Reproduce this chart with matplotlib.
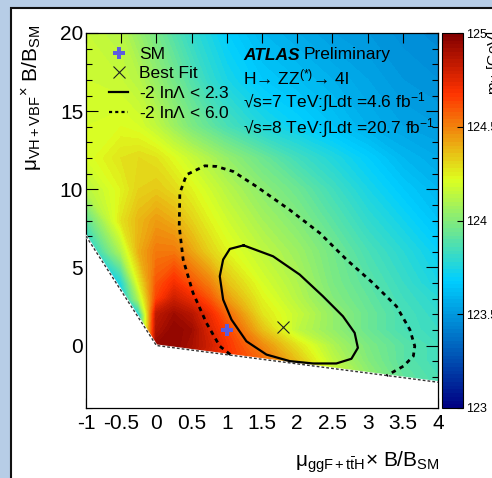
import numpy as np
import matplotlib
matplotlib.use('Agg')
import matplotlib.pyplot as plt
from matplotlib.colors import LinearSegmentedColormap
from matplotlib.patches import Polygon, Rectangle
from matplotlib.lines import Line2D
from matplotlib.ticker import MultipleLocator, FuncFormatter

plt.rcParams['font.family'] = ['Liberation Sans', 'DejaVu Sans']
plt.rcParams['mathtext.fontset'] = 'custom'
plt.rcParams['mathtext.rm'] = 'Liberation Sans'
plt.rcParams['mathtext.it'] = 'Liberation Sans:italic'
plt.rcParams['mathtext.bf'] = 'Liberation Sans:bold'
plt.rcParams['axes.unicode_minus'] = False

# ---------------- data ----------------
mu_ggf = [-1, -0.5, -0.25, 0, 0.25, 0.5, 0.75, 1, 1.5, 2, 2.5, 3, 3.5, 4]
mu_vbf = [-4, -2, -1, 0, 1, 2, 3, 4, 6, 8, 10, 12, 14, 17, 20]
# best-fit m_H [GeV]; one row per mu_vbf value, one column per mu_ggf value
mh_rows = [
    [124.80, 124.80, 124.80, 124.90, 124.90, 124.84, 124.76, 124.68, 124.56, 124.40, 124.20, 124.04, 123.94, 123.88],  # -4
    [124.80, 124.80, 124.80, 124.90, 124.90, 124.84, 124.76, 124.68, 124.56, 124.40, 124.20, 124.04, 123.92, 123.86],  # -2
    [124.80, 124.80, 124.80, 124.90, 124.90, 124.84, 124.76, 124.68, 124.56, 124.36, 124.14, 124.00, 123.90, 123.84],  # -1
    [123.70, 123.70, 123.76, 124.94, 124.96, 124.90, 124.80, 124.68, 124.48, 124.28, 124.10, 123.98, 123.90, 123.84],  # 0
    [123.70, 123.70, 123.76, 124.88, 124.96, 124.92, 124.76, 124.64, 124.36, 124.14, 124.04, 123.94, 123.86, 123.82],  # 1
    [123.70, 123.70, 123.76, 124.84, 124.92, 124.86, 124.72, 124.56, 124.28, 124.16, 124.04, 123.94, 123.86, 123.80],  # 2
    [123.70, 123.70, 124.10, 124.64, 124.80, 124.72, 124.60, 124.44, 124.24, 124.12, 124.00, 123.92, 123.84, 123.78],  # 3
    [123.70, 123.76, 124.24, 124.60, 124.70, 124.60, 124.50, 124.36, 124.20, 124.10, 123.98, 123.90, 123.82, 123.74],  # 4
    [123.70, 124.10, 124.40, 124.52, 124.52, 124.42, 124.32, 124.24, 124.14, 124.06, 123.96, 123.86, 123.78, 123.70],  # 6
    [123.90, 124.28, 124.38, 124.44, 124.40, 124.32, 124.24, 124.18, 124.08, 124.00, 123.90, 123.80, 123.72, 123.64],  # 8
    [124.12, 124.24, 124.32, 124.34, 124.30, 124.24, 124.18, 124.12, 124.02, 123.94, 123.84, 123.74, 123.66, 123.60],  # 10
    [124.20, 124.28, 124.30, 124.28, 124.22, 124.16, 124.10, 124.04, 123.94, 123.84, 123.76, 123.68, 123.60, 123.56],  # 12
    [124.20, 124.22, 124.20, 124.14, 124.06, 123.98, 123.92, 123.86, 123.76, 123.70, 123.64, 123.58, 123.54, 123.52],  # 14
    [124.18, 124.16, 124.12, 124.04, 123.96, 123.88, 123.80, 123.74, 123.66, 123.62, 123.58, 123.54, 123.50, 123.48],  # 17
    [124.16, 124.12, 124.04, 123.96, 123.88, 123.80, 123.74, 123.68, 123.60, 123.56, 123.52, 123.50, 123.47, 123.45],  # 20
]

# physical boundary (white excluded region below it)
bound_x = [-1, 0, 4]
bound_y = [7, 0, -2.35]

# -2 ln Lambda < 2.3 contour (closed)
c68_x = [1.238, 1.657, 2.035, 2.366, 2.65, 2.816, 2.862, 2.77, 2.556, 2.225, 1.894,
         1.563, 1.279, 1.066, 0.948, 0.90, 0.948, 1.043, 1.238]
c68_y = [6.41, 5.71, 4.54, 3.15, 1.87, 0.81, -0.15, -0.85, -1.15, -1.15, -1.0,
         -0.58, 0.27, 1.66, 2.94, 4.43, 5.5, 6.18, 6.41]
# -2 ln Lambda < 6.0 contour (open, ends on the boundary)
c95_x = [1.05, 0.90, 0.71, 0.52, 0.38, 0.324, 0.333, 0.428, 0.688, 0.854, 1.09, 1.42,
         1.89, 2.32, 2.70, 3.075, 3.41, 3.60, 3.67, 3.65, 3.51, 3.27]
c95_y = [-0.58, -0.04, 1.45, 3.37, 5.5, 7.62, 9.76, 10.93, 11.5, 11.46, 11.14, 10.18,
         8.69, 7.2, 5.5, 4.0, 2.51, 1.02, -0.04, -0.68, -1.32, -1.93]

sm_point = (1.0, 1.0)
best_fit = (1.8, 1.2)

xticks = [-1, -0.5, 0, 0.5, 1, 1.5, 2, 2.5, 3, 3.5, 4]
yticks = [0, 5, 10, 15, 20]
cbar_ticks = [123, 123.5, 124, 124.5, 125]
cbar_labels = ['123', '123.5', '124', '124.5', '125']

# ---------------- figure ----------------
W, H = 492, 478
fig = plt.figure(figsize=(W / 100, H / 100), dpi=100)
fig.patch.set_facecolor('#b7cde6')

def fx(px):
    return px / W

def fy(py):
    return 1 - py / H

# white canvas with dark frame
fig.patches.append(Rectangle((fx(11), -0.1), 1.2, fy(8) + 0.1, transform=fig.transFigure,
                             facecolor='white', edgecolor='#111111', lw=1.5, zorder=-5))

cmap = LinearSegmentedColormap.from_list('atlas', [
    (0.00, (0.00, 0.00, 0.51)),
    (0.34, (0.00, 0.81, 1.00)),
    (0.61, (0.87, 1.00, 0.12)),
    (0.84, (1.00, 0.20, 0.00)),
    (1.00, (0.51, 0.00, 0.00))])

ax = fig.add_axes([fx(86), fy(408), fx(438) - fx(86), fy(33) - fy(408)])
ax.set_zorder(2)
XX, YY = np.meshgrid(mu_ggf, mu_vbf)
C = np.array(mh_rows)
levels = np.linspace(123, 125, 101)
cs = ax.contourf(XX, YY, C, levels=levels, cmap=cmap, vmin=123, vmax=125, zorder=1)
cs.set_edgecolor('face')
cs.set_linewidth(0.4)
ax.set_xlim(-1, 4)
ax.set_ylim(-4, 20)

ylo = ax.get_ylim()[0]
poly = list(zip(bound_x, bound_y)) + [(bound_x[-1], ylo), (bound_x[0], ylo)]
ax.add_patch(Polygon(poly, closed=True, facecolor='white', edgecolor='none', zorder=2))
ax.plot(bound_x, bound_y, color='white', lw=1.6, zorder=3)
ax.plot(bound_x, bound_y, color='#333333', lw=1.0, ls=(0, (2.0, 1.5)), zorder=3)

ax.plot(c68_x, c68_y, color='black', lw=1.6, zorder=4)
ax.plot(c95_x, c95_y, color='black', lw=2.0, ls=(0, (1.6, 1.6)), zorder=4)

sm_color = '#5c5ce0'
ax.plot([sm_point[0]], [sm_point[1]], marker='P', color=sm_color, ms=9, mew=0, ls='none', zorder=5)
ax.plot([best_fit[0]], [best_fit[1]], marker='x', color='#222222', ms=8, mew=0.8, ls='none', zorder=5)

ax.set_xticks(xticks)
ax.xaxis.set_major_formatter(FuncFormatter(lambda v, p: f'{v:g}'))
ax.set_yticks(yticks)
ax.yaxis.set_minor_locator(MultipleLocator(1))
ax.tick_params(axis='both', which='both', direction='in', top=True, right=True, width=0.8)
ax.tick_params(axis='x', which='major', length=7.5, labelsize=15, pad=4)
ax.tick_params(axis='y', which='major', length=8.5, labelsize=15, pad=2)
ax.tick_params(axis='y', which='minor', length=4.5)
for sp in ax.spines.values():
    sp.set_linewidth(0.9)

handles = [
    Line2D([], [], marker='P', color=sm_color, ms=9, mew=0, ls='none'),
    Line2D([], [], marker='x', color='#222222', ms=8, mew=0.8, ls='none'),
    Line2D([], [], color='black', lw=1.6),
    Line2D([], [], color='black', lw=1.6, ls=(0, (1.4, 1.4))),
]
labels = ['SM', 'Best Fit', r'-2 ln$\Lambda$ < 2.3', r'-2 ln$\Lambda$ < 6.0']
leg = fig.legend(handles, labels, loc='upper left', bbox_to_anchor=(fx(109), fy(47)),
                 bbox_transform=fig.transFigure, frameon=False, fontsize=12.5,
                 handlelength=1.1, handletextpad=0.65, labelspacing=0.22,
                 borderpad=0, borderaxespad=0)
leg.set_zorder(10)

fs = 12.5
tk = dict(fontsize=fs, va='center', zorder=10)
fig.text(fx(243), fy(55), 'ATLAS', fontweight='bold', style='italic', **tk)
fig.text(fx(304), fy(55), 'Preliminary', **tk)
fig.text(fx(243), fy(77), 'H→ ZZ$^{(*)}$→ 4l', **tk)
fig.text(fx(243), fy(102), '√s=7 TeV:∫Ldt =4.6 fb$^{-1}$', **tk)
fig.text(fx(243), fy(128), '√s=8 TeV:∫Ldt =20.7 fb$^{-1}$', **tk)

fig.text(fx(440), fy(467), r'μ$_{\mathrm{ggF+t\bar{t}H}}$× B/B$_{\mathrm{SM}}$', fontsize=15,
         ha='right', va='baseline')
fig.text(fx(32), fy(24), r'μ$_{\mathrm{VH+VBF}}$$^{\times}$ B/B$_{\mathrm{SM}}$', fontsize=15,
         rotation=90, ha='center', va='top')

cax = fig.add_axes([fx(442), fy(408), fx(463) - fx(442), fy(33) - fy(408)])
cax.set_zorder(2)
cb = fig.colorbar(cs, cax=cax)
cb.set_ticks(cbar_ticks)
cb.set_ticklabels(cbar_labels)
cb.ax.tick_params(labelsize=9, length=4, width=0.8, direction='in', pad=2)
cb.ax.minorticks_off()
cb.outline.set_linewidth(0.8)
fig.text(fx(494), fy(30), r'm$_{\mathrm{H}}$ [GeV]', fontsize=11, rotation=90,
         ha='center', va='top')

fig.savefig('out.png', dpi=100, facecolor=fig.get_facecolor())
